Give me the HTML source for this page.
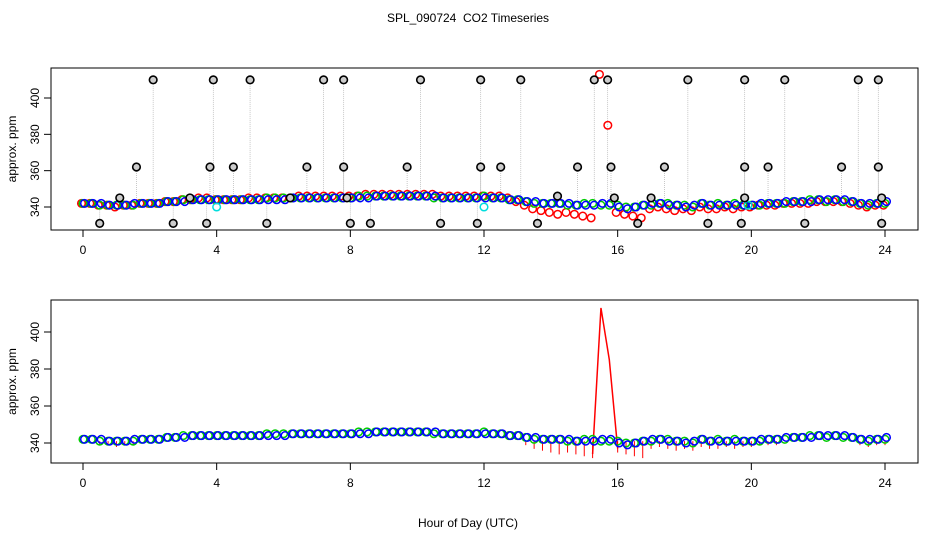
<!DOCTYPE html>
<html><head><meta charset="utf-8"><style>
body{margin:0;background:#fff;}
svg{display:block;font-family:"Liberation Sans",sans-serif;}
</style></head><body>
<svg id="chart" width="936" height="540" viewBox="0 0 936 540">
<text x="468" y="22" font-size="12" text-anchor="middle" xml:space="preserve">SPL_090724  CO2 Timeseries</text>
<text x="468" y="527" font-size="12" text-anchor="middle">Hour of Day (UTC)</text>
<g id="top"></g>
<g id="bot"></g>
</svg>
<script>
const xTicks=[0,4,8,12,16,20,24];
const yTicks=[340,360,380,400];
const blueVals=[342,342,342,341,341,341,342,342,342,342,343,343,343,344,344,344,
344,344,344,344,344,344,344,344,344,345,345,345,345,345,345,345,
345,345,345,346,346,346,346,346,346,346,346,345,345,345,345,345,
345,345,345,344,344,343,343,342,342,342,342,341,341,341,342,342,
340,339,340,341,342,342,341,341,340,341,342,341,341,341,341,341,
341,342,342,342,343,343,343,343,344,344,344,344,343,342,342,342,343];
const greenVals=[342,342,341,341,341,341,341,342,342,342,343,343,344,344,344,344,
344,344,344,344,344,344,345,345,345,345,345,345,345,345,345,345,
345,346,346,346,346,346,346,346,346,346,345,345,345,345,345,345,
346,345,345,344,344,343,342,342,342,342,341,341,342,342,341,341,
341,340,340,341,341,342,342,341,341,340,342,341,342,341,342,341,
341,341,342,342,342,343,343,344,344,343,344,343,343,342,341,342,342];
const redVals=[342,342,341,341,340,341,341,342,342,342,343,343,344,344,345,345,
344,344,344,344,345,345,345,345,345,345,346,346,346,346,346,346,
346,346,347,347,347,347,347,347,347,347,347,346,346,346,346,346,
346,346,346,345,343,341,339,338,337,336,337,336,335,334,413,385,
337,336,335,334,339,340,339,338,339,338,340,339,339,340,339,340,
340,341,341,341,342,342,342,342,343,343,343,343,342,341,340,341,341];
const blackHours=[0.5,1.1,1.6,2.1,2.7,3.2,3.7,3.8,3.9,4.5,5.0,5.5,6.2,6.7,7.2,7.8,7.8,7.9,8.0,8.6,9.7,10.1,10.7,11.8,11.9,11.9,12.5,13.1,13.6,14.2,14.8,15.3,15.7,15.8,15.9,16.6,17.0,17.4,18.1,18.7,19.7,19.8,19.8,19.8,20.5,21.0,21.6,22.7,23.2,23.8,23.8,23.9,23.9];
const blackVals=[331,345,362,410,331,345,331,362,410,362,410,331,345,362,410,410,362,345,331,331,362,410,331,331,362,410,362,410,331,346,362,410,410,362,345,331,345,362,410,331,331,345,362,410,362,410,331,362,410,410,362,331,345];
const cyanHours=[4.0,12.0,19.9];
const cyanVals=[340,340,341];
const NS='http://www.w3.org/2000/svg';
function el(tag,attrs,parent){const e=document.createElementNS(NS,tag);for(const k in attrs)e.setAttribute(k,attrs[k]);parent.appendChild(e);return e;}
function makePanel(g,top,bottom,y340,y400,isTop){
  const left=51,right=918;
  const xs=h=>83+h*(885-83)/24;
  const ys=v=>y340+(v-340)*(y400-y340)/60;
  const box=el('rect',{x:left,y:top,width:right-left,height:bottom-top,fill:'none',stroke:'#000','stroke-width':1},g);
  
  
  xTicks.forEach(t=>{
    const l=el('line',{x1:xs(t),x2:xs(t),y1:bottom,y2:bottom+7,stroke:'#000'},g);
    
    
    const tx=el('text',{x:xs(t),y:bottom+24,'font-size':12,'text-anchor':'middle'},g);tx.textContent=t;
    
    
  });
  yTicks.forEach(t=>{
    const l=el('line',{x1:left-7,x2:left,y1:ys(t),y2:ys(t),stroke:'#000'},g);
    
    
    const tx=el('text',{x:0,y:0,'font-size':12,'text-anchor':'middle',transform:`translate(${left-12},${ys(t)}) rotate(-90)`},g);tx.textContent=t;
    
    
  });
  const yt=el('text',{x:0,y:0,'font-size':12,'text-anchor':'middle',transform:`translate(16,${(top+bottom)/2}) rotate(-90)`},g);yt.textContent='approx. ppm';
  
  
  const cp=el('clipPath',{id:'c'+top},g);
  el('rect',{x:left,y:top,width:right-left,height:bottom-top},cp);
  const cg=el('g',{'clip-path':`url(#c${top})`},g);
  if(isTop){
    blackHours.forEach((h,i)=>{
      const l=el('line',{x1:xs(h),x2:xs(h),y1:ys(blackVals[i]),y2:ys(344),stroke:'#bbb','stroke-width':0.8,'stroke-dasharray':'1 1'},cg);
      
      
    });
  }
  const series=[[redVals,'#f00'],[greenVals,'#0c0'],[blueVals,'#00f']];
  if(!isTop){
    let d='';
    redVals.forEach((v,i)=>{
      const near=(v>345&&i>52)||(i<96&&redVals[i+1]>360)||(i>0&&redVals[i-1]>360);
      if(near) d+=(d===''||!((i>0&&redVals[i-1]>360)||v>360)?'M':'L')+xs(i*0.25)+' '+ys(v);
    });
    const p=el('path',{d:d,fill:'none',stroke:'#f00','stroke-width':1.5},cg);
    
    
    redVals.forEach((v,i)=>{ if(v<342){
      const l=el('line',{x1:xs(i*0.25),x2:xs(i*0.25),y1:ys(341),y2:ys(v)+4,stroke:'#f00'},cg);
      
      }});
  }
  series.forEach(([vals,col],si)=>{
    vals.forEach((v,i)=>{
      if(!isTop && si==0) return;
      const c=el('circle',{cx:xs(i*0.25)+(si-1)*1.5,cy:ys(v),r:3.8,fill:'none',stroke:col,'stroke-width':1.5},cg);
      
      
    });
  });
  if(isTop){
    cyanHours.forEach((h,i)=>{
      const c=el('circle',{cx:xs(h),cy:ys(cyanVals[i]),r:3.8,fill:'none',stroke:'#0dd','stroke-width':1.5},cg);
      
      
    });
    blackHours.forEach((h,i)=>{
      const c=el('circle',{cx:xs(h),cy:ys(blackVals[i]),r:3.8,fill:'#ccc',stroke:'#000','stroke-width':1.6},cg);
      
      
    });
  }
}
makePanel(document.getElementById('top'),68,230,207,98,true);
makePanel(document.getElementById('bot'),300,463,443,332,false);
</script>
</body></html>
